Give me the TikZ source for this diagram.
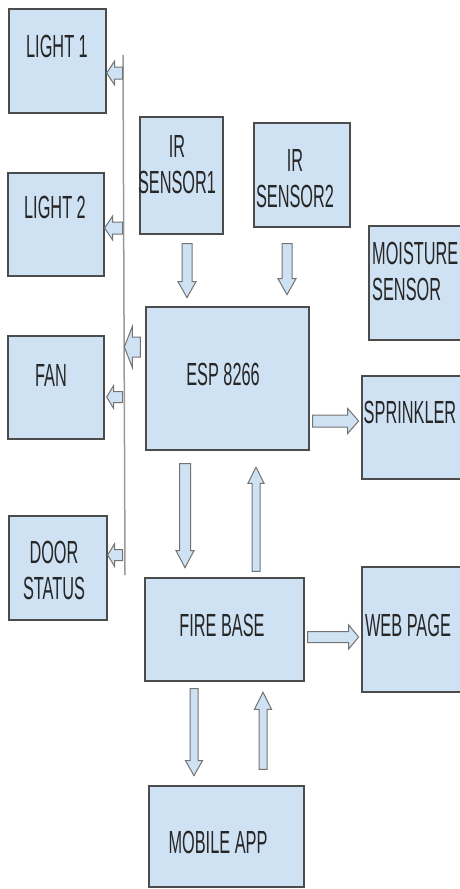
\documentclass[tikz,border=0pt]{standalone}
\usepackage{fontspec}
\newfontfamily\diagfont[FakeStretch=0.51]{Liberation Sans}
\usepackage{tikz}
\usetikzlibrary{calc}
\definecolor{boxblue}{HTML}{CFE2F3}

% block arrow: from, to, half shaft, half head, head length
\newcommand{\blockarrow}[5]{%
  \draw[barrow] let \p1=(#1), \p2=(#2),
      \n1={veclen(\x2-\x1,\y2-\y1)}, \n2={(\x2-\x1)/\n1}, \n3={(\y2-\y1)/\n1},
      \n4={\n1-#5} in
    ({\x1-#3*\n3},{\y1+#3*\n2})
    -- ({\x1+\n4*\n2-#3*\n3},{\y1+\n4*\n3+#3*\n2})
    -- ({\x1+\n4*\n2-#4*\n3},{\y1+\n4*\n3+#4*\n2})
    -- (\p2)
    -- ({\x1+\n4*\n2+#4*\n3},{\y1+\n4*\n3-#4*\n2})
    -- ({\x1+\n4*\n2+#3*\n3},{\y1+\n4*\n3-#3*\n2})
    -- ({\x1+#3*\n3},{\y1-#3*\n2}) -- cycle;
}

\begin{document}
\begin{tikzpicture}[x=1pt, y=-1pt,
    box/.style={draw=black!70, fill=boxblue, line width=1.3pt, inner sep=0pt},
    lbl/.style={font=\diagfont\fontsize{32}{36}\selectfont, align=center,
                inner sep=0pt, text=black!85},
    barrow/.style={draw=black!55, fill=boxblue, line width=1pt, line join=miter},
    bus/.style={draw=black!40, line width=1.5pt},
]
\useasboundingbox (0,0) rectangle (459,889);

% Outputs on the left
\node[box, minimum width=97pt, minimum height=104pt] (light1) at (57.5,61) {};
\node[lbl] at (57,46) {LIGHT 1};
\node[box, minimum width=96pt, minimum height=103pt] (light2) at (56,224.5) {};
\node[lbl] at (55,207) {LIGHT 2};
\node[box, minimum width=96pt, minimum height=103pt] (fan) at (56,387.5) {};
\node[lbl] at (51,375) {FAN};
\node[box, minimum width=98pt, minimum height=104pt] (door) at (58,568) {};
\node[lbl] at (54,570) {DOOR\\STATUS};

% Sensors
\node[box, minimum width=83pt, minimum height=117pt] (ir1) at (181.5,175.5) {};
\node[lbl] at (177,165) {IR\\SENSOR1};
\node[box, minimum width=96pt, minimum height=104pt] (ir2) at (302,175) {};
\node[lbl] at (295,179) {IR\\SENSOR2};
\node[box, minimum width=93pt, minimum height=114pt] (moist) at (415.5,283) {};
\node[lbl, align=left, anchor=west] at (372,271.5) {MOISTURE\\SENSOR};

% Controller and cloud
\node[box, minimum width=163pt, minimum height=143pt] (esp) at (227.5,378.5) {};
\node[lbl] at (223,374) {ESP 8266};
\node[box, minimum width=100pt, minimum height=103pt] (sprink) at (412,427.5) {};
\node[lbl] at (410,412) {SPRINKLER};
\node[box, minimum width=159pt, minimum height=103pt] (fbase) at (224.5,629.5) {};
\node[lbl] at (222,625) {FIRE BASE};
\node[box, minimum width=100pt, minimum height=125pt] (web) at (412,629.5) {};
\node[lbl] at (408,625) {WEB PAGE};
\node[box, minimum width=155pt, minimum height=101pt] (mobile) at (226.5,836.5) {};
\node[lbl] at (218,842) {MOBILE APP};

% Bus line
\coordinate (bustop) at (123,55);
\coordinate (busbot) at (125,575);
\draw[bus] (bustop) -- (busbot);

% Arrows off the bus
\blockarrow{[shift={(16,12)}]light1.east}{[shift={(0,12)}]light1.east}{6}{12}{8}
\blockarrow{[shift={(18,3.5)}]light2.east}{[shift={(0,3.5)}]light2.east}{6}{12}{8}
\blockarrow{[shift={(-5,-31.5)}]esp.west}{[shift={(-21,-31.5)}]esp.west}{10}{20.5}{8}
\blockarrow{[shift={(18,9.5)}]fan.east}{[shift={(2,9.5)}]fan.east}{5.5}{11.5}{7}
\blockarrow{[shift={(15,-13)}]door.east}{[shift={(0,-13)}]door.east}{5.5}{11.5}{7}

% Sensor arrows
\blockarrow{[shift={(5.5,9)}]ir1.south}{[shift={(5.5,63)}]ir1.south}{5}{9}{16}
\blockarrow{[shift={(-15,16)}]ir2.south}{[shift={(-15,67)}]ir2.south}{5}{9}{16}

% Outputs to the right
\blockarrow{[shift={(3,42.5)}]esp.east}{[shift={(49,42.5)}]esp.east}{6}{12.5}{11}
\blockarrow{[shift={(3,7.5)}]fbase.east}{[shift={(54,7.5)}]fbase.east}{5.5}{12}{10}

% ESP <-> Fire base
\blockarrow{[shift={(-42.5,13)}]esp.south}{[shift={(-42.5,117)}]esp.south}{5.5}{9}{17}
\blockarrow{[shift={(31.5,-6)}]fbase.north}{[shift={(31.5,-110)}]fbase.north}{4}{8}{16}

% Fire base <-> mobile app
\blockarrow{[shift={(-30.5,7)}]fbase.south}{[shift={(-30.5,94)}]fbase.south}{4}{8.5}{15}
\blockarrow{[shift={(36.5,-16)}]mobile.north}{[shift={(36.5,-93)}]mobile.north}{4}{8.5}{17}

\end{tikzpicture}
\end{document}
